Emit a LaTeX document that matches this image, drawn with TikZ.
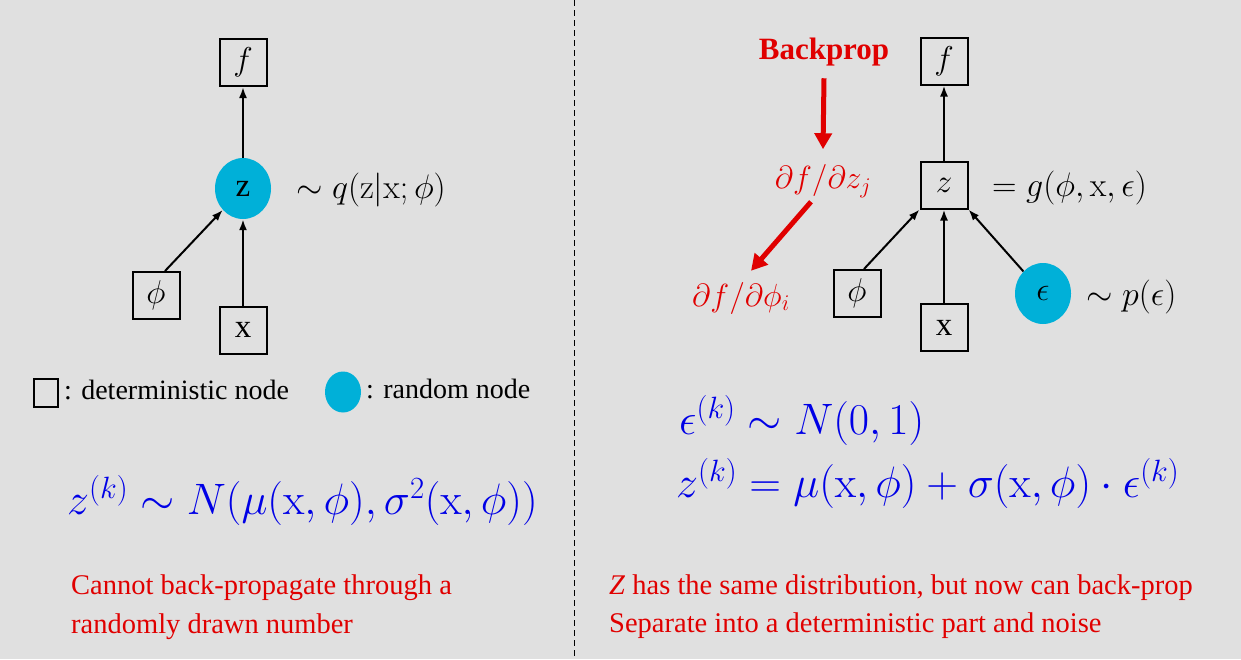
\RequirePackage{fix-cm}
\documentclass[tikz,border=0pt]{standalone}
\usepackage[no-math]{fontspec}
\setmainfont{Liberation Serif}
\usetikzlibrary{arrows.meta,shapes.geometric}
\definecolor{bgc}{HTML}{E0E0E0}
\definecolor{cyanc}{HTML}{00B0D8}
\definecolor{redc}{HTML}{E00000}
\definecolor{bluec}{HTML}{0000E6}
\begin{document}
\begin{tikzpicture}[x=1pt,y=-1pt,
  detbox/.style={draw, line width=2pt, minimum width=47pt, minimum height=47pt, inner sep=0pt, font=\fontsize{33}{36}\selectfont},
  randnode/.style={ellipse, fill=cyanc, minimum width=56pt, minimum height=61pt, inner sep=0pt, font=\fontsize{33}{36}\selectfont},
  arr/.style={-{Latex[length=11pt,width=8pt]}, line width=2pt},
  redarr/.style={-{Triangle[length=16pt,width=17pt]}, line width=5pt, draw=redc},
  lbl/.style={anchor=west, inner sep=0pt, font=\fontsize{34}{38}\selectfont},
  leg/.style={anchor=west, inner sep=0pt, font=\fontsize{28}{30}\selectfont},
  redtxt/.style={anchor=west, inner sep=0pt, text=redc, font=\fontsize{28.5}{32}\selectfont},
  eqn/.style={anchor=west, inner sep=0pt, text=bluec, font=\fontsize{44}{48}\selectfont}
]
\useasboundingbox (0,0) rectangle (1241,659);
\fill[bgc] (0,0) rectangle (1241,659);
\draw[dashed, line width=1pt, dash pattern=on 6pt off 4pt] (574,0) -- (574,659);

% left graph
\node[detbox] (fL) at (243,62.5) {$f$};
\node[randnode] (zL) at (243,188.5) {z};
\node[lbl] (qL) at (296,190) {$\sim q(\mathrm{z}|\mathrm{x};\phi)$};
\node[detbox] (phiL) at (156,295.5) {$\phi$};
\node[detbox] (xL) at (243,330) {x};
\draw[arr] (zL) -- (fL);
\draw[arr] (xL) -- (zL);
\draw[arr] ([xshift=9pt]phiL.north) -- (zL);

% legend
\node[draw, line width=2pt, minimum width=24pt, minimum height=28pt, inner sep=0pt] (legbox) at (46.3,393) {};
\node[leg] (legdet) at (64,390) {: deterministic node};
\node[ellipse, fill=cyanc, minimum width=36pt, minimum height=41pt, inner sep=0pt] (legell) at (343,392) {};
\node[leg] (legrnd) at (366,389) {: random node};

% right graph
\node[text=redc, font=\bfseries\fontsize{31}{34}\selectfont, inner sep=0pt] (bp) at (824,52) {Backprop};
\node[text=redc, font=\fontsize{32}{36}\selectfont, inner sep=0pt] (dz) at (823,181) {$\partial f/\partial z_j$};
\node[text=redc, font=\fontsize{32}{36}\selectfont, inner sep=0pt] (dphi) at (741,298) {$\partial f/\partial \phi_i$};
\draw[redarr] ([yshift=-12pt]bp.south) -- ([yshift=15pt]dz.north);
\draw[redarr] ([xshift=-12pt,yshift=-4pt]dz.south) -- ([xshift=10pt,yshift=11pt]dphi.north);

\node[detbox] (fR) at (944,61) {$f$};
\node[detbox] (zR) at (944,185) {$z$};
\node[lbl] (gR) at (992,188) {$=g(\phi,\mathrm{x},\epsilon)$};
\node[detbox] (phiR) at (857,293.5) {$\phi$};
\node[detbox] (xR) at (944,327.5) {x};
\node[randnode] (epsR) at (1043,293.5) {$\epsilon$};
\node[lbl] (pR) at (1086,297) {$\sim p(\epsilon)$};
\draw[arr] (zR) -- (fR);
\draw[arr] (xR) -- (zR);
\draw[arr] ([xshift=7pt]phiR.north) -- (zR.south west);
\draw[arr] (epsR) -- (zR.south east);

% equations
\node[eqn] (eqL) at (67,500) {$z^{(k)}\sim N\bigl(\mu(\mathrm{x},\phi),\sigma^2(\mathrm{x},\phi)\bigr)$};
\node[eqn] (eqR1) at (679,420) {$\epsilon^{(k)}\sim N(0,1)$};
\node[eqn] (eqR2) at (676,483) {$z^{(k)}=\mu(\mathrm{x},\phi)+\sigma(\mathrm{x},\phi)\cdot\epsilon^{(k)}$};

% captions
\node[redtxt] (cL1) at (71,588) {Cannot back-propagate through a};
\node[redtxt] (cL2) at (71,627) {randomly drawn number};
\node[redtxt] (cR1) at (609,588) {\textit{Z} has the same distribution, but now can back-prop};
\node[redtxt] (cR2) at (609,626) {Separate into a deterministic part and noise};
\end{tikzpicture}
\end{document}
